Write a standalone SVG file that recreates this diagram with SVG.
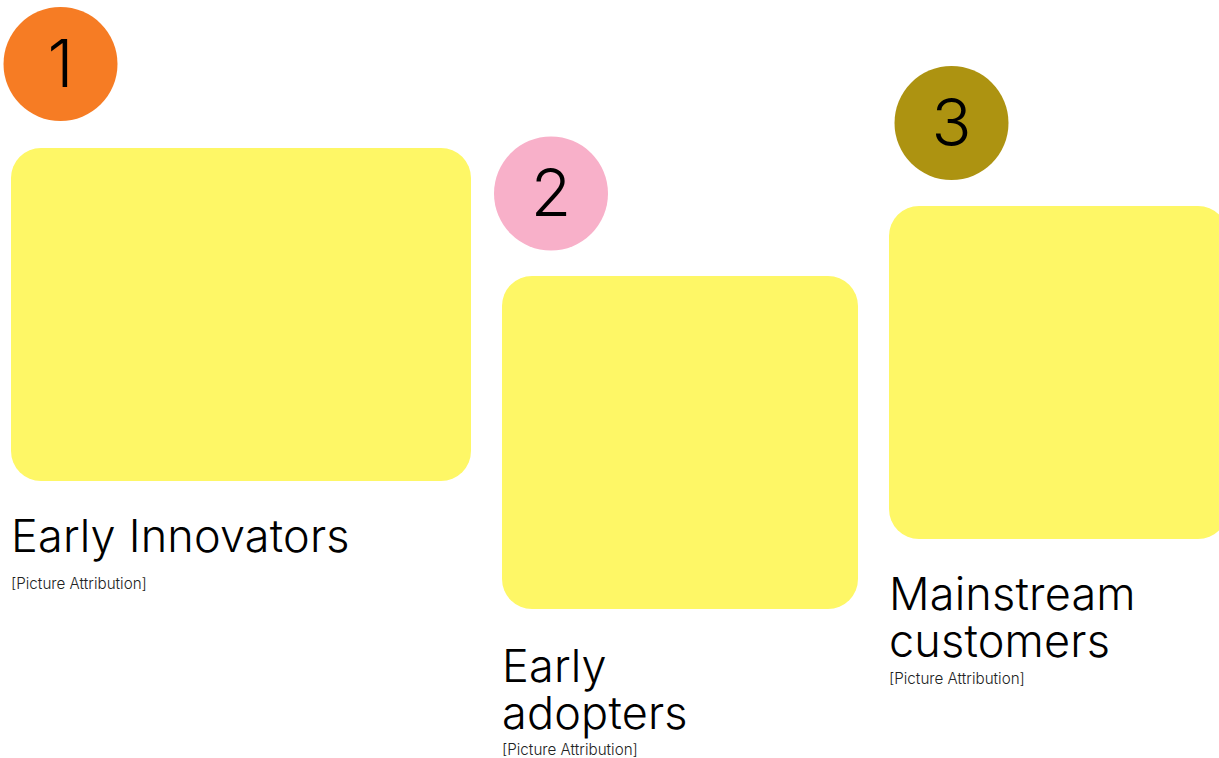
<svg xmlns="http://www.w3.org/2000/svg" width="1219" height="758" viewBox="0 0 1219 758">
<style>
.card{fill:#fef766}
.num{font-family:Inter,"Liberation Sans",sans-serif;font-weight:300;font-size:66px;fill:#000;text-anchor:middle}
.title{font-family:Inter,"Liberation Sans",sans-serif;font-weight:300;font-size:45px;letter-spacing:0.2px;fill:#000}
.attr{font-family:Inter,"Liberation Sans",sans-serif;font-weight:300;font-size:15.2px;fill:#222}
</style>
<rect width="1219" height="758" fill="#fff"/>
<g id="node1">
<circle cx="60.5" cy="64" r="57" fill="#f67c24"/>
<text class="num" x="60.5" y="87">1</text>
<rect class="card" x="11" y="148" width="460" height="333" rx="30"/>
<text class="title" x="11" y="552">Early Innovators</text>
<text class="attr" x="11" y="589">[Picture Attribution]</text>
</g>
<g id="node2">
<circle cx="551" cy="193.5" r="57" fill="#f8b0c9"/>
<text class="num" x="551" y="216">2</text>
<rect class="card" x="502" y="276" width="356" height="333" rx="30"/>
<text class="title" x="502" y="682">Early</text>
<text class="title" x="502" y="729">adopters</text>
<text class="attr" x="502" y="755">[Picture Attribution]</text>
</g>
<g id="node3">
<circle cx="951.5" cy="123" r="57" fill="#ad9311"/>
<text class="num" x="951.5" y="146">3</text>
<rect class="card" x="889" y="206" width="339" height="333" rx="30"/>
<text class="title" x="889" y="610">Mainstream</text>
<text class="title" x="889" y="657">customers</text>
<text class="attr" x="889" y="684">[Picture Attribution]</text>
</g>
<g id="connectors"/>
</svg>
